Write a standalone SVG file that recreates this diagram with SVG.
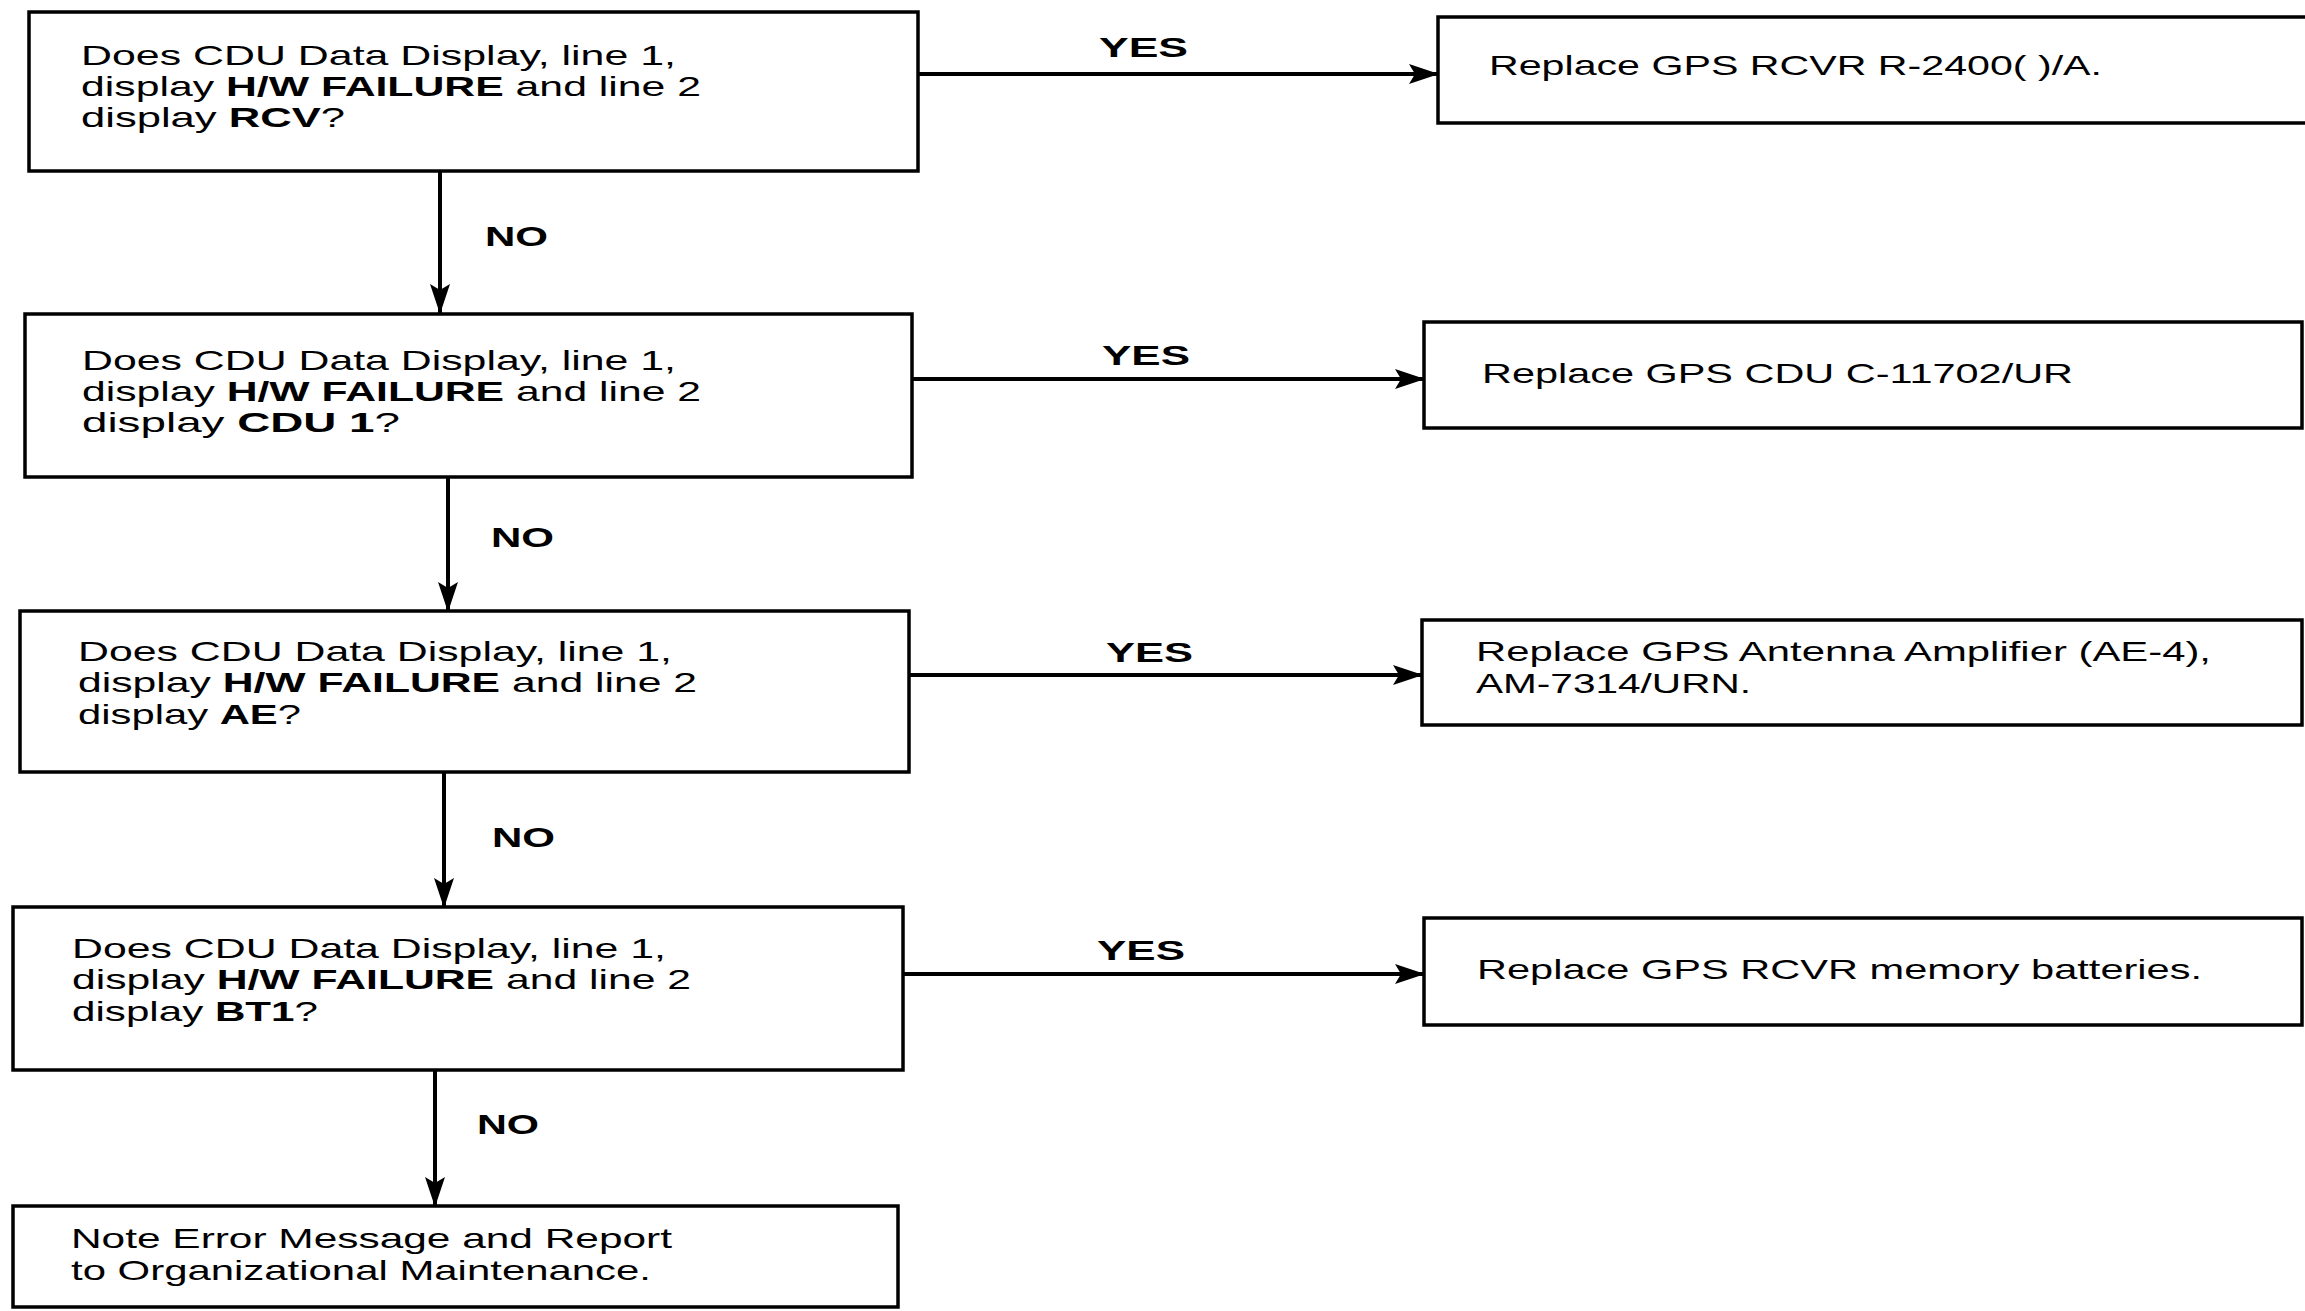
<svg xmlns="http://www.w3.org/2000/svg" width="2305" height="1311" viewBox="0 0 2305 1311">
<defs>
<style>
.bg{fill:#fff}
.box{fill:#fff;stroke:#000;stroke-width:3.5}
.t{font-family:"Liberation Sans",Arial,Helvetica,sans-serif;font-size:28px;fill:#000}
.b{font-weight:bold}
.lbl{font-family:"Liberation Sans",Arial,Helvetica,sans-serif;font-size:28px;font-weight:bold;fill:#000}
.conn{stroke:#000;stroke-width:4;fill:none;marker-end:url(#ah)}
</style>
<marker id="ah" viewBox="0 0 30 20" refX="29" refY="10" markerWidth="30" markerHeight="20" markerUnits="userSpaceOnUse" orient="auto">
<path d="M0,0 L30,10 L0,20 L6,10 z" fill="#000"/>
</marker>
</defs>
<rect class="bg" x="0" y="0" width="2305" height="1311"/>

<g id="connectors">
<line class="conn" x1="918" y1="74" x2="1438" y2="74"/>
<line class="conn" x1="912" y1="379" x2="1424" y2="379"/>
<line class="conn" x1="909" y1="675" x2="1422" y2="675"/>
<line class="conn" x1="903" y1="974" x2="1424" y2="974"/>
<line class="conn" x1="440" y1="171" x2="440" y2="313"/>
<line class="conn" x1="448" y1="477" x2="448" y2="611"/>
<line class="conn" x1="444" y1="772" x2="444" y2="907"/>
<line class="conn" x1="435" y1="1070" x2="435" y2="1206"/>
<text class="lbl" x="1099" y="57" textLength="89" lengthAdjust="spacingAndGlyphs">YES</text>
<text class="lbl" x="1102" y="365" textLength="88" lengthAdjust="spacingAndGlyphs">YES</text>
<text class="lbl" x="1106" y="662" textLength="87" lengthAdjust="spacingAndGlyphs">YES</text>
<text class="lbl" x="1097" y="960" textLength="88" lengthAdjust="spacingAndGlyphs">YES</text>
<text class="lbl" x="485" y="246" textLength="63" lengthAdjust="spacingAndGlyphs">NO</text>
<text class="lbl" x="491" y="547" textLength="63" lengthAdjust="spacingAndGlyphs">NO</text>
<text class="lbl" x="492" y="847" textLength="63" lengthAdjust="spacingAndGlyphs">NO</text>
<text class="lbl" x="477" y="1134" textLength="62" lengthAdjust="spacingAndGlyphs">NO</text>
</g>

<g id="q1">
<rect class="box" x="29" y="12" width="889" height="159"/>
<text class="t" x="81" y="65" textLength="595" lengthAdjust="spacingAndGlyphs">Does CDU Data Display, line 1,</text>
<text class="t" x="81" y="96" textLength="620" lengthAdjust="spacingAndGlyphs">display <tspan class="b">H/W FAILURE</tspan> and line 2</text>
<text class="t" x="81" y="127" textLength="264" lengthAdjust="spacingAndGlyphs">display <tspan class="b">RCV</tspan>?</text>
</g>

<g id="q2">
<rect class="box" x="25" y="314" width="887" height="163"/>
<text class="t" x="82" y="370" textLength="594" lengthAdjust="spacingAndGlyphs">Does CDU Data Display, line 1,</text>
<text class="t" x="82" y="401" textLength="619" lengthAdjust="spacingAndGlyphs">display <tspan class="b">H/W FAILURE</tspan> and line 2</text>
<text class="t" x="82" y="432" textLength="318" lengthAdjust="spacingAndGlyphs">display <tspan class="b">CDU 1</tspan>?</text>
</g>

<g id="q3">
<rect class="box" x="20" y="611" width="889" height="161"/>
<text class="t" x="78" y="661" textLength="594" lengthAdjust="spacingAndGlyphs">Does CDU Data Display, line 1,</text>
<text class="t" x="78" y="692" textLength="619" lengthAdjust="spacingAndGlyphs">display <tspan class="b">H/W FAILURE</tspan> and line 2</text>
<text class="t" x="78" y="724" textLength="223" lengthAdjust="spacingAndGlyphs">display <tspan class="b">AE</tspan>?</text>
</g>

<g id="q4">
<rect class="box" x="13" y="907" width="890" height="163"/>
<text class="t" x="72" y="958" textLength="594" lengthAdjust="spacingAndGlyphs">Does CDU Data Display, line 1,</text>
<text class="t" x="72" y="989" textLength="619" lengthAdjust="spacingAndGlyphs">display <tspan class="b">H/W FAILURE</tspan> and line 2</text>
<text class="t" x="72" y="1021" textLength="246" lengthAdjust="spacingAndGlyphs">display <tspan class="b">BT1</tspan>?</text>
</g>

<g id="report">
<rect class="box" x="13" y="1206" width="885" height="101"/>
<text class="t" x="71" y="1248" textLength="601" lengthAdjust="spacingAndGlyphs">Note Error Message and Report</text>
<text class="t" x="71" y="1280" textLength="580" lengthAdjust="spacingAndGlyphs">to Organizational Maintenance.</text>
</g>

<g id="a1">
<rect class="box" x="1438" y="17" width="900" height="106"/>
<text class="t" x="1489" y="75" textLength="613" lengthAdjust="spacingAndGlyphs">Replace GPS RCVR R-2400( )/A.</text>
</g>

<g id="a2">
<rect class="box" x="1424" y="322" width="878" height="106"/>
<text class="t" x="1482" y="383" textLength="591" lengthAdjust="spacingAndGlyphs">Replace GPS CDU C-11702/UR</text>
</g>

<g id="a3">
<rect class="box" x="1422" y="620" width="880" height="105"/>
<text class="t" x="1476" y="661" textLength="735" lengthAdjust="spacingAndGlyphs">Replace GPS Antenna Amplifier (AE-4),</text>
<text class="t" x="1476" y="693" textLength="275" lengthAdjust="spacingAndGlyphs">AM-7314/URN.</text>
</g>

<g id="a4">
<rect class="box" x="1424" y="918" width="878" height="107"/>
<text class="t" x="1477" y="979" textLength="725" lengthAdjust="spacingAndGlyphs">Replace GPS RCVR memory batteries.</text>
</g>
</svg>
